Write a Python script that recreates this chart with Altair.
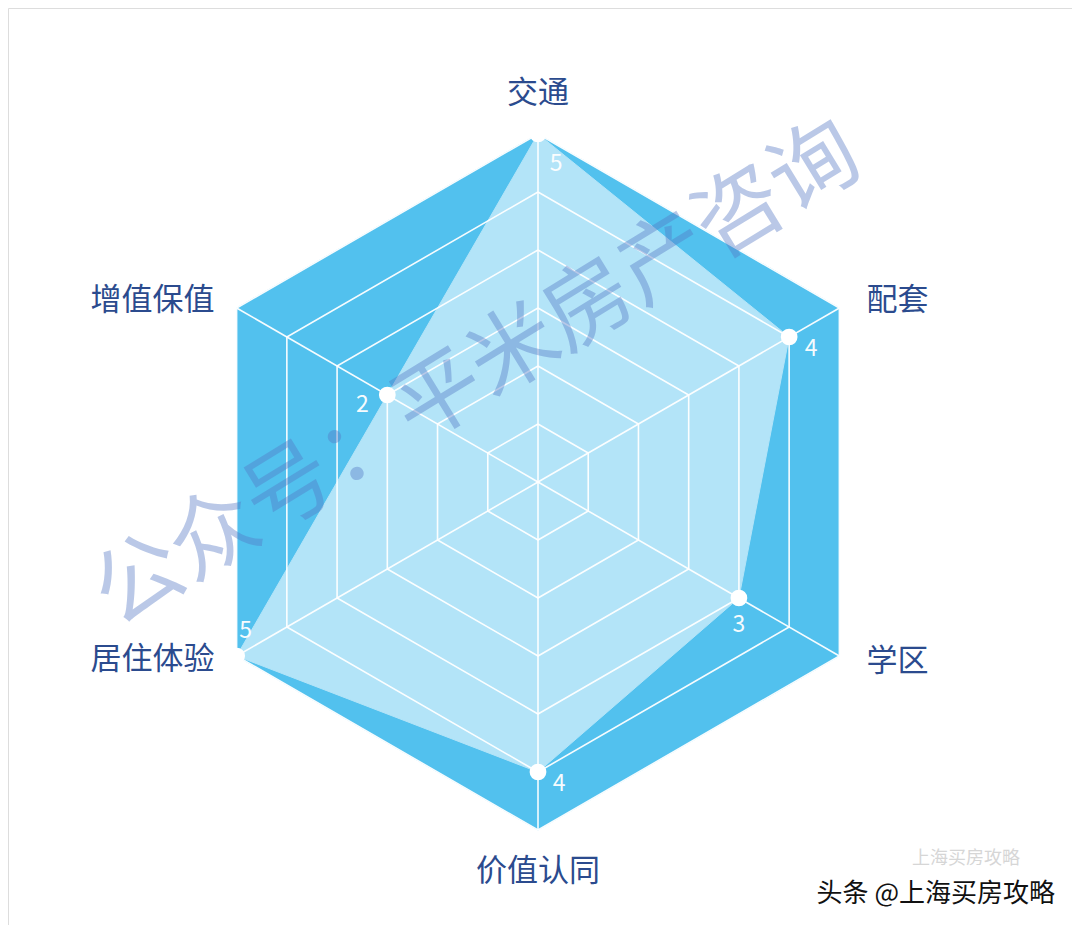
import altair as alt
import pandas as pd

# ---- data ----
categories = ["交通", "配套", "学区", "价值认同", "居住体验", "增值保值"]
values = [5, 4, 3, 4, 5, 2]
axis_min = -1
axis_max = 5
levels = [1, 2, 3, 4, 5, 6]  # ring levels (in units above axis_min)

# ---- layout / style ----
W, H = 1064, 917
CX, CY = 530, 474          # centre of the radar in plot pixels
UNIT = 58.0                # pixels per value unit
R = axis_max - axis_min    # outer radius in units

xdom = [-CX / UNIT, (W - CX) / UNIT]
ydom = [-(H - CY) / UNIT, CY / UNIT]
xs = alt.Scale(domain=xdom, nice=False, zero=False)
ys = alt.Scale(domain=ydom, nice=False, zero=False)

OUTER = "#52C1EE"
INNER = "#B3E4F8"
LABEL = "#2B4B8E"
FONT = "Noto Sans CJK SC"

n = len(categories)
axis_df = pd.DataFrame({"cat": categories, "i": list(range(n)), "val": values})

def polar(chart, rexpr):
    return chart.transform_calculate(
        ang="(90 - 60 * datum.i) * PI / 180",
    ).transform_calculate(
        r=rexpr,
    ).transform_calculate(
        px="datum.r * cos(datum.ang)",
        py="datum.r * sin(datum.ang)",
    )

# closed ring table (vertex list with repeat of first)
ring_rows = []
for lv in levels:
    for k in range(n + 1):
        ring_rows.append({"lv": lv, "i": k % n, "k": k})
ring_df = pd.DataFrame(ring_rows)

closed_df = pd.DataFrame({"i": [k % n for k in range(n + 1)], "k": list(range(n + 1)),
                          "val": [values[k % n] for k in range(n + 1)]})

enc_xy = dict(
    x=alt.X("px:Q", scale=xs, axis=None),
    y=alt.Y("py:Q", scale=ys, axis=None),
)

# background hexagon
bg = polar(alt.Chart(closed_df), f"{R}").mark_line(
    fill=OUTER, stroke=OUTER, strokeWidth=1, fillOpacity=1
).encode(order="k:Q", **enc_xy)

# data polygon
area = polar(alt.Chart(closed_df), f"datum.val - ({axis_min})").mark_line(
    fill=INNER, stroke=INNER, strokeWidth=1, fillOpacity=1
).encode(order="k:Q", **enc_xy)

# grid rings
rings = polar(alt.Chart(ring_df), "datum.lv").mark_line(
    stroke="white", strokeWidth=1.6, strokeOpacity=0.95
).encode(order="k:Q", detail="lv:N", **enc_xy)

# spokes
spokes = alt.Chart(axis_df).transform_calculate(
    ang="(90 - 60 * datum.i) * PI / 180",
).transform_calculate(
    px=f"{R} * cos(datum.ang)", py=f"{R} * sin(datum.ang)", zx="0", zy="0"
).mark_rule(stroke="white", strokeWidth=1.6, strokeOpacity=0.95).encode(
    x=alt.X("zx:Q", scale=xs, axis=None), y=alt.Y("zy:Q", scale=ys, axis=None),
    x2="px:Q", y2="py:Q",
)

# points
pts = polar(alt.Chart(axis_df), f"datum.val - ({axis_min})").mark_circle(
    color="white", size=280, opacity=1
).encode(**enc_xy)

# value labels (offsets per point)
val_off = {
    "交通": (18, 30, "center"),
    "配套": (22, 12, "center"),
    "学区": (0, 27, "center"),
    "价值认同": (21, 12, "center"),
    "居住体验": (9, -25, "center"),
    "增值保值": (-25, 10, "center"),
}
val_layers = []
for c in categories:
    dx, dy, al = val_off[c]
    val_layers.append(
        polar(alt.Chart(axis_df), f"datum.val - ({axis_min})")
        .transform_filter(alt.datum.cat == c)
        .mark_text(color="white", font=FONT, fontSize=23, dx=dx, dy=dy, align=al,
                   baseline="middle", opacity=0.95)
        .encode(text="val:N", **enc_xy)
    )

# category labels
cat_off = {
    "交通": (0, -40, "center"),
    "配套": (27, -7, "left"),
    "学区": (27, 6, "left"),
    "价值认同": (0, 42, "center"),
    "居住体验": (-22, 4, "right"),
    "增值保值": (-22, -7, "right"),
}
cat_layers = []
for c in categories:
    dx, dy, al = cat_off[c]
    cat_layers.append(
        polar(alt.Chart(axis_df), f"{R}")
        .transform_filter(alt.datum.cat == c)
        .mark_text(color=LABEL, font=FONT, fontSize=31, dx=dx, dy=dy, align=al, baseline="middle")
        .encode(text="cat:N", **enc_xy)
    )

# watermark
wm = alt.Chart(pd.DataFrame({"t": ["公众号：平米房产咨询"]})).mark_text(
    font=FONT, fontSize=88, color="#5478C4", opacity=0.4, angle=328.5,
    align="center", baseline="middle",
).encode(x=alt.value(470), y=alt.value(368), text="t:N")

ghost = alt.Chart(pd.DataFrame({"t": ["上海买房攻略"]})).mark_text(
    font=FONT, fontSize=18, color="#D6D6D6", align="center", baseline="middle",
).encode(x=alt.value(958), y=alt.value(851), text="t:N")

credit = alt.Chart(pd.DataFrame({"t": ["头条 @上海买房攻略"]})).mark_text(
    font=FONT, fontSize=26, color="#111111", align="right", baseline="middle",
).encode(x=alt.value(1047), y=alt.value(886), text="t:N")

chart = alt.layer(
    bg, area, rings, spokes, pts, *val_layers, *cat_layers, wm, ghost, credit
).properties(
    width=W, height=H, padding=0, autosize=alt.AutoSizeParams(type="none")
).configure_view(strokeWidth=0, stroke="transparent").configure(background="white")

chart.save("out.html", embed_options={"renderer": "svg", "actions": False})
